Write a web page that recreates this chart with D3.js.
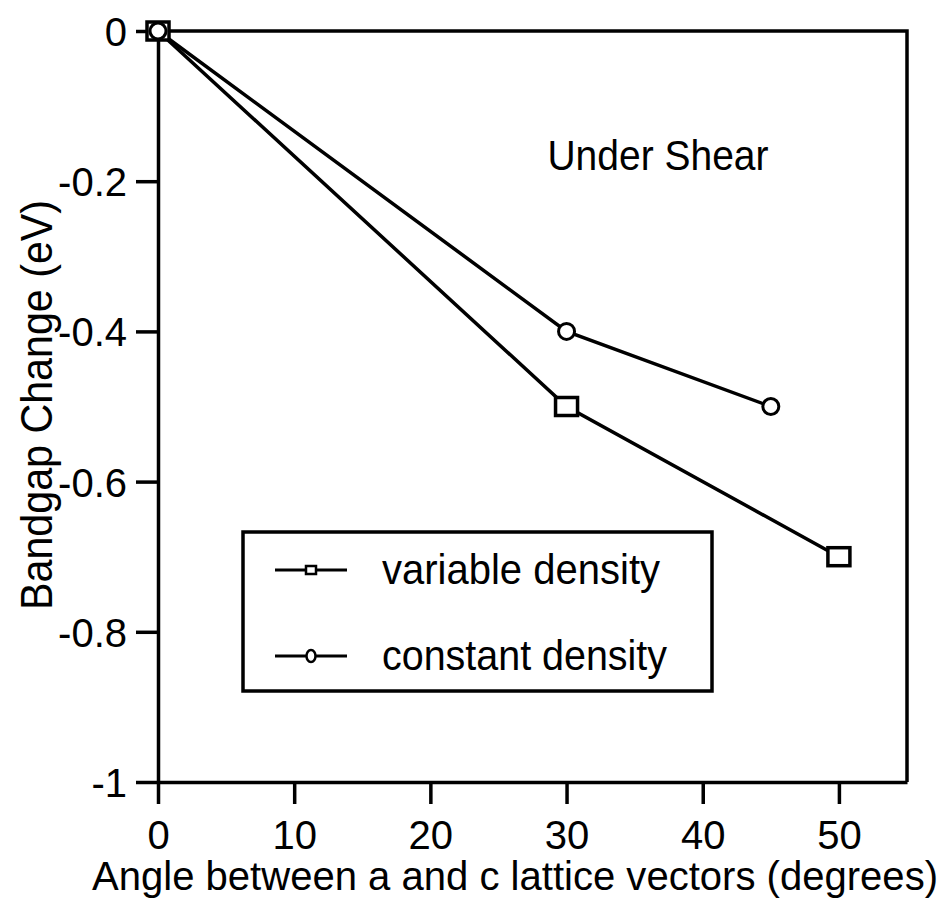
<!DOCTYPE html>
<html>
<head>
<meta charset="utf-8">
<script src="https://cdn.jsdelivr.net/npm/d3@7"></script>
<style>
  body { margin: 0; background: #fff; }
  text { font-family: "Liberation Sans", Arial, sans-serif; fill: #000; }
</style>
</head>
<body>
<div id="chart"></div>
<script>
// data
var variableX = [0, 30, 50];
var variableY = [0, -0.5, -0.7];
var constantX = [0, 30, 45];
var constantY = [0, -0.4, -0.5];
var xTicks = [0, 10, 20, 30, 40, 50];
var yTicks = [0, -0.2, -0.4, -0.6, -0.8, -1];
var yTickLabels = ["0", "-0.2", "-0.4", "-0.6", "-0.8", "-1"];
var seriesNames = ["variable density", "constant density"];

var W = 948, H = 904;
var margin = {top: 31, right: 41, bottom: 122, left: 158},
    width = W - margin.left - margin.right,
    height = H - margin.top - margin.bottom;

var svg = d3.select("#chart")
  .append("svg")
    .attr("width", W)
    .attr("height", H);

var g = svg.append("g")
    .attr("transform", "translate(" + margin.left + "," + margin.top + ")");

var x = d3.scaleLinear().domain([0, 55]).range([0, width]);
var y = d3.scaleLinear().domain([-1, 0]).range([height, 0]);

// frame (top and right)
g.append("path")
  .attr("d", "M0,0H" + x(55) + "V" + y(-1))
  .attr("fill", "none")
  .attr("stroke", "#000")
  .attr("stroke-width", 3.5);

// X axis
var xAxis = g.append("g")
  .attr("transform", "translate(0," + height + ")")
  .call(d3.axisBottom(x).tickValues(xTicks).tickSize(22).tickSizeOuter(0).tickPadding(8).tickFormat(d3.format("d")));

// Y axis
var yAxis = g.append("g")
  .call(d3.axisLeft(y).tickValues(yTicks).tickSize(22).tickSizeOuter(0).tickPadding(9)
        .tickFormat(function(d, i) { return yTickLabels[i]; }));

[xAxis, yAxis].forEach(function(a) {
  a.selectAll("path, line").attr("stroke", "#000").attr("stroke-width", 3.5);
  a.selectAll("text")
    .style("font-size", "40px")
    .style("font-family", "'Liberation Sans', Arial, sans-serif")
    .attr("fill", "#000");
});
yAxis.selectAll("text").attr("dy", "0.36em");
xAxis.selectAll("text").attr("dy", "0.93em");

// axis titles
svg.append("text")
  .attr("x", 515)
  .attr("y", 890)
  .attr("text-anchor", "middle")
  .attr("textLength", 846)
  .attr("lengthAdjust", "spacingAndGlyphs")
  .style("font-size", "40px")
  .text("Angle between a and c lattice vectors (degrees)");

svg.append("text")
  .attr("transform", "translate(52,405) rotate(-90)")
  .attr("text-anchor", "middle")
  .attr("textLength", 410)
  .attr("lengthAdjust", "spacingAndGlyphs")
  .style("font-size", "45px")
  .text("Bandgap Change (eV)");

// annotation
g.append("text")
  .attr("x", x(28.6))
  .attr("y", 139)
  .attr("textLength", 221)
  .attr("lengthAdjust", "spacingAndGlyphs")
  .style("font-size", "43px")
  .text("Under Shear");

var line = d3.line()
  .x(function(d) { return x(d[0]); })
  .y(function(d) { return y(d[1]); });

var variablePts = d3.zip(variableX, variableY);
var constantPts = d3.zip(constantX, constantY);

[variablePts, constantPts].forEach(function(pts) {
  g.append("path")
    .datum(pts)
    .attr("d", line)
    .attr("fill", "none")
    .attr("stroke", "#000")
    .attr("stroke-width", 3.5);
});

// markers
g.selectAll(".sq")
  .data(variablePts)
  .enter()
  .append("rect")
    .attr("x", function(d) { return x(d[0]) - 11; })
    .attr("y", function(d) { return y(d[1]) - 9; })
    .attr("width", 22)
    .attr("height", 18)
    .attr("fill", "#fff")
    .attr("stroke", "#000")
    .attr("stroke-width", 3.5);

g.selectAll(".circ")
  .data(constantPts)
  .enter()
  .append("ellipse")
    .attr("cx", function(d) { return x(d[0]); })
    .attr("cy", function(d) { return y(d[1]); })
    .attr("rx", 8)
    .attr("ry", 8)
    .attr("fill", "#fff")
    .attr("stroke", "#000")
    .attr("stroke-width", 3);

// legend
var legend = svg.append("g");
legend.append("rect")
  .attr("x", 243)
  .attr("y", 532)
  .attr("width", 469)
  .attr("height", 159)
  .attr("fill", "#fff")
  .attr("stroke", "#000")
  .attr("stroke-width", 3.5);

var legendY = [570, 656];
var legendW = [278, 285];
seriesNames.forEach(function(name, i) {
  var ly = legendY[i];
  legend.append("line")
    .attr("x1", 275).attr("x2", 347)
    .attr("y1", ly).attr("y2", ly)
    .attr("stroke", "#000")
    .attr("stroke-width", 3);
  if (i === 0) {
    legend.append("rect")
      .attr("x", 306).attr("y", ly - 4)
      .attr("width", 10).attr("height", 8)
      .attr("fill", "#fff")
      .attr("stroke", "#000")
      .attr("stroke-width", 2.5);
  } else {
    legend.append("ellipse")
      .attr("cx", 311).attr("cy", ly)
      .attr("rx", 4.5).attr("ry", 6)
      .attr("fill", "#fff")
      .attr("stroke", "#000")
      .attr("stroke-width", 2.5);
  }
  legend.append("text")
    .attr("x", 382)
    .attr("y", ly + 14)
    .attr("textLength", legendW[i])
    .attr("lengthAdjust", "spacingAndGlyphs")
    .style("font-size", "42px")
    .text(name);
});
</script>
</body>
</html>
